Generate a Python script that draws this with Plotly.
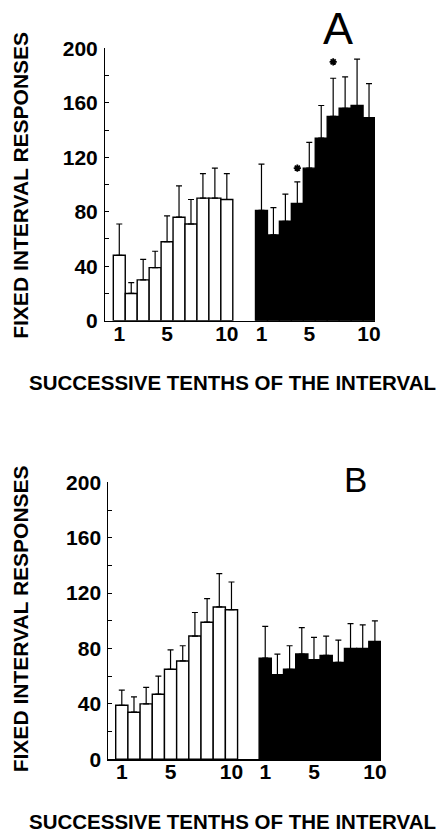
import plotly.graph_objects as go

# ---------------- data ----------------
tenths = list(range(1, 11))
x_tick_labels = ["1", "5", "10"]
x_tick_tenths = [1, 5, 10]
y_ticks = [0, 40, 80, 120, 160, 200]

# Panel A
a_white_mean = [48, 20, 30, 39, 58, 76, 71, 90, 90, 89]
a_white_top = [71, 28, 45, 51, 77, 99, 89, 108, 112, 108]
a_black_mean = [81, 63, 73, 86, 112, 134, 150, 156, 158, 149]
a_black_top = [115, 83, 93, 102, 131, 158, 178, 179, 192, 174]
a_sig_tenths = [4, 7]
a_sig_y = [112, 190]

# Panel B
b_white_mean = [39, 34, 40, 47, 65, 71, 89, 99, 110, 108]
b_white_top = [50, 45, 52, 60, 79, 82, 106, 116, 134, 128]
b_black_mean = [73, 61, 65, 76, 72, 75, 70, 80, 80, 85]
b_black_top = [96, 76, 82, 95, 88, 89, 86, 98, 97, 100]

y_title = "FIXED INTERVAL RESPONSES"
x_title = "SUCCESSIVE TENTHS OF THE INTERVAL"

# ---------------- layout constants ----------------
W, H = 443, 834
FONT = "Arial, 'Liberation Sans', Helvetica, sans-serif"


def px_x(x):
    return x / W


def px_y(y):
    return 1 - y / H


panels = [
    dict(name="A", xa="x", ya="y", xkey="xaxis", ykey="yaxis",
         white=a_white_mean, white_top=a_white_top,
         black=a_black_mean, black_top=a_black_top,
         sig=a_sig_tenths, sig_y=a_sig_y,
         gap=11.9, xrange=[-0.195, 22.4],
         xdom=[105, 375], ydom=[48.3, 320.7],
         letter_xy=(338, 28), letter_size=45,
         ytitle_y=185, xtitle=dict(x=232.5, y=382, size=20.5)),
    dict(name="B", xa="x2", ya="y2", xkey="xaxis2", ykey="yaxis2",
         white=b_white_mean, white_top=b_white_top,
         black=b_black_mean, black_top=b_black_top,
         sig=[], sig_y=[],
         gap=11.77, xrange=[-0.108, 22.27],
         xdom=[108.3, 381], ydom=[482.3, 759.3],
         letter_xy=(355, 479), letter_size=35,
         ytitle_y=618.5, xtitle=dict(x=233, y=821, size=20.5)),
]

fig = go.Figure()
annotations = []
layout_axes = {}

for p in panels:
    wx = tenths
    bx = [t + p["gap"] for t in tenths]
    fig.add_trace(go.Bar(
        x=wx, y=p["white"], width=1, xaxis=p["xa"], yaxis=p["ya"],
        marker=dict(color="white", line=dict(color="black", width=1.4)),
        error_y=dict(type="data", symmetric=False,
                     array=[t - m for t, m in zip(p["white_top"], p["white"])],
                     arrayminus=[0] * 10, color="black", thickness=1.2, width=3),
        showlegend=False, hoverinfo="skip"))
    fig.add_trace(go.Bar(
        x=bx, y=p["black"], width=1, xaxis=p["xa"], yaxis=p["ya"],
        marker=dict(color="black", line=dict(color="black", width=1.4)),
        error_y=dict(type="data", symmetric=False,
                     array=[t - m for t, m in zip(p["black_top"], p["black"])],
                     arrayminus=[0] * 10, color="black", thickness=1.2, width=3),
        showlegend=False, hoverinfo="skip"))
    if p["sig"]:
        fig.add_trace(go.Scatter(
            x=[s + p["gap"] for s in p["sig"]], y=p["sig_y"], mode="markers",
            xaxis=p["xa"], yaxis=p["ya"],
            marker=dict(symbol="asterisk-open", size=6, color="black",
                        line=dict(color="black", width=1.8)),
            showlegend=False, hoverinfo="skip"))

    tickvals = [t for t in x_tick_tenths] + [t + p["gap"] for t in x_tick_tenths]
    layout_axes[p["xkey"]] = dict(
        domain=[px_x(p["xdom"][0]), px_x(p["xdom"][1])], range=p["xrange"],
        anchor=p["ya"], showgrid=False, zeroline=False, automargin=False,
        showline=True, linecolor="black", linewidth=1.6,
        tickmode="array", tickvals=tickvals, ticktext=x_tick_labels * 2,
        ticks="", ticklabelstandoff=-7,
        tickfont=dict(family=FONT, size=21, color="black", weight="bold"))
    layout_axes[p["ykey"]] = dict(
        domain=[px_y(p["ydom"][1]), px_y(p["ydom"][0])], range=[0, 200],
        anchor=p["xa"], showgrid=False, zeroline=False, automargin=False,
        showline=True, linecolor="black", linewidth=1,
        tickmode="array", tickvals=y_ticks, ticks="inside", ticklen=4,
        tickwidth=1, tickcolor="black",
        minor=dict(tickvals=[20, 60, 100, 140, 180], ticks="inside", ticklen=4,
                   tickwidth=1, tickcolor="black", showgrid=False),
        ticklabelstandoff=2,
        tickfont=dict(family=FONT, size=21, color="black", weight="bold"))

    lx, ly = p["letter_xy"]
    annotations.append(dict(
        text=p["name"], x=px_x(lx), y=px_y(ly), xref="paper", yref="paper",
        xanchor="center", yanchor="middle", showarrow=False,
        font=dict(family=FONT, size=p["letter_size"], color="black")))
    annotations.append(dict(
        text=y_title, x=px_x(20.8), y=px_y(p["ytitle_y"]), xref="paper", yref="paper",
        xanchor="center", yanchor="middle", textangle=-90, showarrow=False,
        font=dict(family=FONT, size=21, color="black", weight="bold")))
    xt = p["xtitle"]
    annotations.append(dict(
        text=x_title, x=px_x(xt["x"]), y=px_y(xt["y"]), xref="paper", yref="paper",
        xanchor="center", yanchor="middle", showarrow=False,
        font=dict(family=FONT, size=xt["size"], color="black", weight="bold")))

fig.update_layout(
    width=W, height=H, margin=dict(l=0, r=0, t=0, b=0, autoexpand=False),
    paper_bgcolor="white", plot_bgcolor="white",
    barmode="overlay", showlegend=False, hovermode=False,
    annotations=annotations, **layout_axes)

# remove the page's default body margin so the figure fills the window exactly
fig.write_html("out.html", config={"displayModeBar": False, "staticPlot": True},
               post_script="document.body.style.margin='0px';")
